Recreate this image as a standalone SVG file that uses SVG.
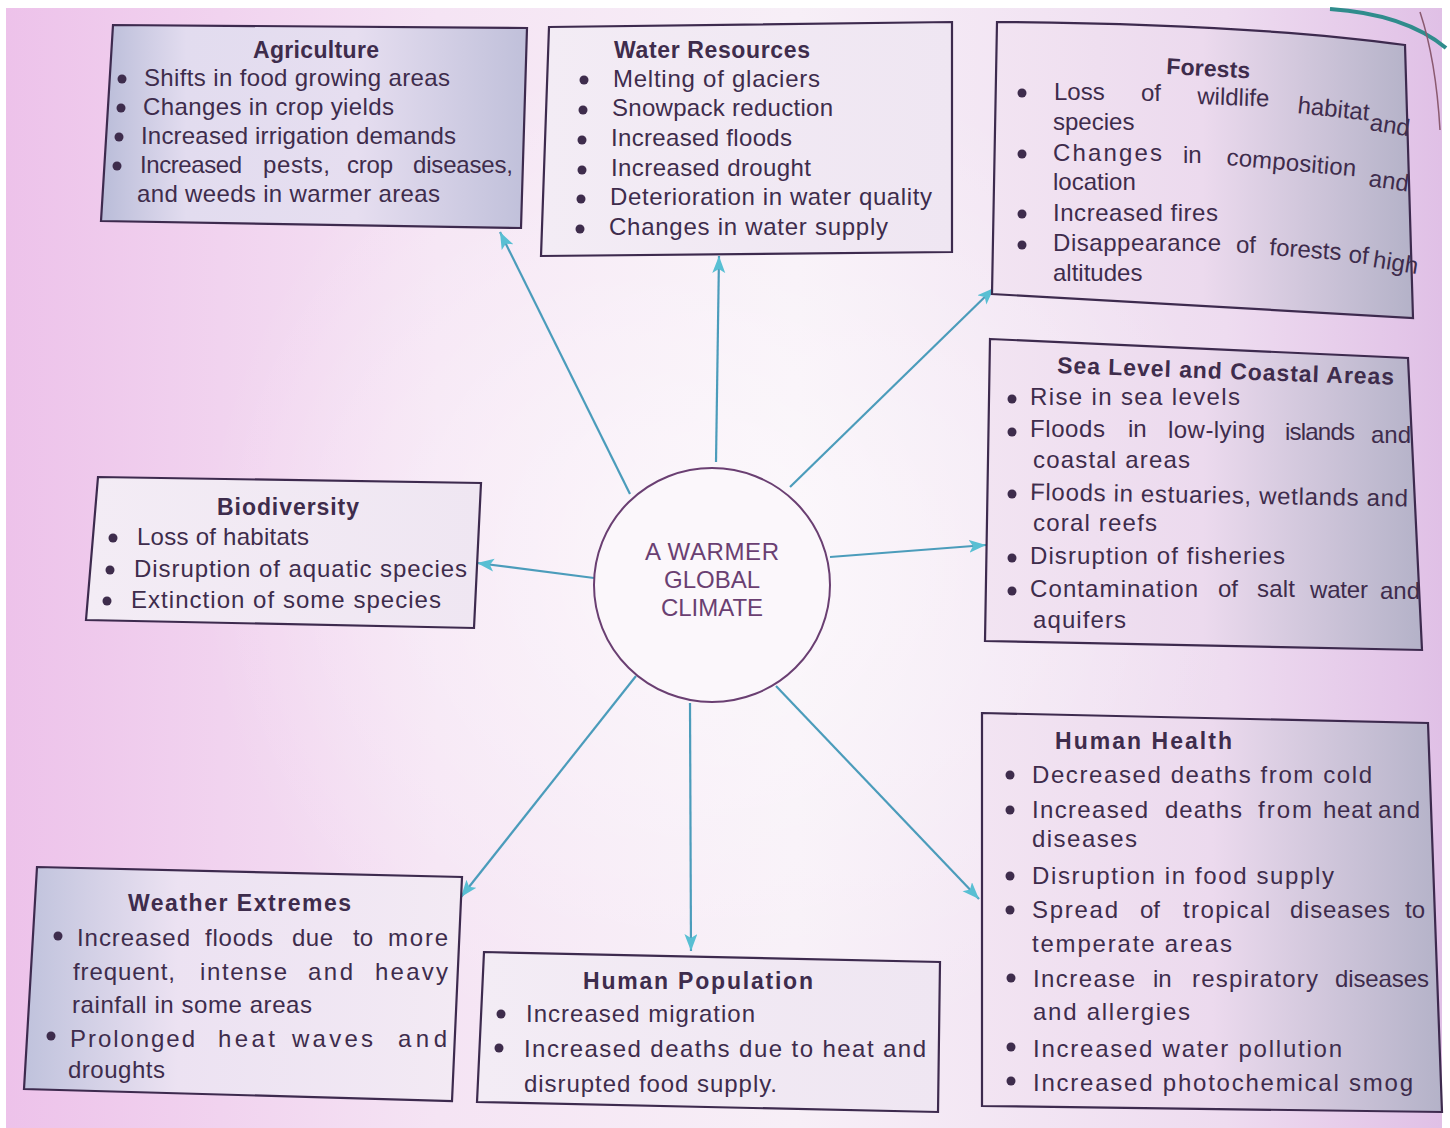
<svg xmlns="http://www.w3.org/2000/svg" width="1450" height="1128" viewBox="0 0 1450 1128">
<defs>
<linearGradient id="page" x1="0" y1="0" x2="1" y2="0">
<stop offset="0" stop-color="#edc2ea"/>
<stop offset="0.3" stop-color="#f5e4f4"/>
<stop offset="0.55" stop-color="#f7eff7"/>
<stop offset="0.85" stop-color="#eedcf0"/>
<stop offset="1" stop-color="#e0c0e6"/>
</linearGradient>
<radialGradient id="glow" cx="0.5" cy="0.5" r="0.5">
<stop offset="0" stop-color="#ffffff" stop-opacity="0.6"/>
<stop offset="1" stop-color="#ffffff" stop-opacity="0"/>
</radialGradient>
<linearGradient id="boxA" x1="0" y1="0" x2="1" y2="0">
<stop offset="0" stop-color="#b9bcd8"/>
<stop offset="0.2" stop-color="#e2dcef"/>
<stop offset="0.6" stop-color="#e6def0"/>
<stop offset="1" stop-color="#c0c0da"/>
</linearGradient>
<linearGradient id="boxR" x1="0" y1="0" x2="1" y2="0">
<stop offset="0" stop-color="#f2e4f2"/>
<stop offset="0.5" stop-color="#ecdaee"/>
<stop offset="1" stop-color="#b4b2c8"/>
</linearGradient>
<linearGradient id="boxL" x1="0" y1="0" x2="1" y2="0">
<stop offset="0" stop-color="#bfc2dc"/>
<stop offset="0.35" stop-color="#ece2f2"/>
<stop offset="1" stop-color="#f3eaf4"/>
</linearGradient>
<linearGradient id="boxW" x1="0" y1="0" x2="1" y2="0">
<stop offset="0" stop-color="#f3ecf5"/>
<stop offset="1" stop-color="#efe6f2"/>
</linearGradient>
<marker id="ah" markerUnits="userSpaceOnUse" markerWidth="20" markerHeight="14" refX="17" refY="6.5" orient="auto">
<path d="M0,0 L17,6.5 L0,13 L4,6.5 Z" fill="#58bfd3"/>
</marker>
<style>
.box{stroke:#3d2a4e;stroke-width:2.2}
.t{font-family:"Liberation Sans",Arial,sans-serif;font-size:24px;fill:#3e2c4c}
.h{font-family:"Liberation Sans",Arial,sans-serif;font-size:23px;font-weight:bold;fill:#3e2c4c}
.c{font-family:"Liberation Sans",Arial,sans-serif;font-size:24px;fill:#6a3f72;text-anchor:middle}
.b{fill:#3e2c4c}
.arr{stroke:#4b9cbb;stroke-width:2.2;fill:none;marker-end:url(#ah)}
</style>
</defs>
<rect width="1450" height="1128" fill="#ffffff"/>
<rect x="6" y="8" width="1436" height="1120" fill="url(#page)"/>
<ellipse cx="720" cy="560" rx="520" ry="520" fill="url(#glow)"/>
<path d="M1330,9 Q1405,14 1446,48" stroke="#2f8c8c" stroke-width="4" fill="none"/>
<path d="M1420,12 Q1436,60 1440,130" stroke="#8a5a70" stroke-width="1.5" fill="none"/>

<g id="connectors">
<line class="arr" x1="630" y1="494" x2="500" y2="232"/>
<line class="arr" x1="716" y1="462" x2="719" y2="256"/>
<line class="arr" x1="790" y1="487" x2="994" y2="288"/>
<line class="arr" x1="830" y1="557" x2="986" y2="545"/>
<line class="arr" x1="594" y1="578" x2="477" y2="563"/>
<line class="arr" x1="636" y1="676" x2="461" y2="897"/>
<line class="arr" x1="690" y1="703" x2="691" y2="951"/>
<line class="arr" x1="776" y1="686" x2="979" y2="899"/>
</g>

<g id="center">
<ellipse cx="712" cy="585" rx="118" ry="117" fill="#fbf7fb" stroke="#6a3f72" stroke-width="2"/>
<text class="c" x="712" y="560" textLength="134" lengthAdjust="spacing">A WARMER</text>
<text class="c" x="712" y="588">GLOBAL</text>
<text class="c" x="712" y="616">CLIMATE</text>
</g>

<g id="agriculture">
<path class="box" fill="url(#boxA)" d="M113,25 L527,28 L521,228 L101,221 Z"/>
<text class="h" x="253" y="58" textLength="126" lengthAdjust="spacing">Agriculture</text>
<circle class="b" cx="122" cy="79" r="4.5"/><text class="t" x="144" y="86" textLength="306" lengthAdjust="spacing">Shifts in food growing areas</text>
<circle class="b" cx="121" cy="108" r="4.5"/><text class="t" x="143" y="115" textLength="251" lengthAdjust="spacing">Changes in crop yields</text>
<circle class="b" cx="119" cy="137" r="4.5"/><text class="t" x="141" y="144" textLength="315" lengthAdjust="spacing">Increased irrigation demands</text>
<circle class="b" cx="117" cy="166" r="4.5"/>
<text class="t" x="140" y="173" textLength="102" lengthAdjust="spacing">Increased</text>
<text class="t" x="263" y="173" textLength="67" lengthAdjust="spacing">pests,</text>
<text class="t" x="347" y="173" textLength="46" lengthAdjust="spacing">crop</text>
<text class="t" x="413" y="173" textLength="100" lengthAdjust="spacing">diseases,</text>
<text class="t" x="137" y="202" textLength="303" lengthAdjust="spacing">and weeds in warmer areas</text>
</g>

<g id="water-resources">
<path class="box" fill="url(#boxW)" d="M549,27 L952,22 L952,252 L541,256 Z"/>
<text class="h" x="614" y="58" textLength="196" lengthAdjust="spacing">Water Resources</text>
<circle class="b" cx="584" cy="80" r="4.5"/><text class="t" x="613" y="87" textLength="207" lengthAdjust="spacing">Melting of glaciers</text>
<circle class="b" cx="583" cy="110" r="4.5"/><text class="t" x="612" y="116" textLength="221" lengthAdjust="spacing">Snowpack reduction</text>
<circle class="b" cx="582" cy="140" r="4.5"/><text class="t" x="611" y="146" textLength="181" lengthAdjust="spacing">Increased floods</text>
<circle class="b" cx="582" cy="170" r="4.5"/><text class="t" x="611" y="176" textLength="200" lengthAdjust="spacing">Increased drought</text>
<circle class="b" cx="581" cy="199" r="4.5"/><text class="t" x="610" y="205" textLength="322" lengthAdjust="spacing">Deterioration in water quality</text>
<circle class="b" cx="580" cy="229" r="4.5"/><text class="t" x="609" y="235" textLength="279" lengthAdjust="spacing">Changes in water supply</text>
</g>

<g id="forests">
<path class="box" fill="url(#boxR)" d="M997,22 Q1250,24 1405,45 L1413,318 L992,294 Z"/>
<text class="h" x="1166" y="74" textLength="84" lengthAdjust="spacing" transform="rotate(3 1166 74)">Forests</text>
<circle class="b" cx="1022" cy="93" r="4.5"/>
<text class="t" x="1054" y="100">Loss</text>
<text class="t" x="1141" y="101">of</text>
<text class="t" x="1197" y="104" font-size="23" transform="rotate(2 1197 104)">wildlife</text>
<text class="t" x="1297" y="113" font-size="21" transform="rotate(6 1297 113)">habitat</text>
<text class="t" x="1369" y="130" font-size="18" transform="rotate(9 1369 130)">and</text>
<text class="t" x="1053" y="130">species</text>
<circle class="b" cx="1022" cy="154" r="4.5"/>
<text class="t" x="1053" y="161" textLength="109" lengthAdjust="spacing">Changes</text>
<text class="t" x="1183" y="163">in</text>
<text class="t" x="1226" y="165" textLength="130" lengthAdjust="spacing" transform="rotate(5 1226 165)">composition</text>
<text class="t" x="1368" y="186" font-size="19" transform="rotate(8 1368 186)">and</text>
<text class="t" x="1053" y="190">location</text>
<circle class="b" cx="1022" cy="214" r="4.5"/>
<text class="t" x="1053" y="221" textLength="165" lengthAdjust="spacing">Increased fires</text>
<circle class="b" cx="1022" cy="245" r="4.5"/>
<text class="t" x="1053" y="251" textLength="168" lengthAdjust="spacing">Disappearance</text>
<text class="t" x="1236" y="253">of</text>
<text class="t" x="1269" y="255" font-size="22" transform="rotate(4 1269 255)">forests</text>
<text class="t" x="1348" y="262" font-size="20" transform="rotate(6 1348 262)">of</text>
<text class="t" x="1372" y="267" font-size="18" transform="rotate(9 1372 267)">high</text>
<text class="t" x="1053" y="281">altitudes</text>
</g>

<g id="sea-level">
<path class="box" fill="url(#boxR)" d="M990,339 L1408,358 L1422,650 L985,641 Z"/>
<text class="h" x="1057" y="373" textLength="337" lengthAdjust="spacing" transform="rotate(2 1057 373)">Sea Level and Coastal Areas</text>
<circle class="b" cx="1012" cy="399" r="4.5"/><text class="t" x="1030" y="405" textLength="210" lengthAdjust="spacing">Rise in sea levels</text>
<circle class="b" cx="1012" cy="432" r="4.5"/>
<text class="t" x="1030" y="437" textLength="75" lengthAdjust="spacing">Floods</text>
<text class="t" x="1128" y="437">in</text>
<text class="t" x="1168" y="438" textLength="97" lengthAdjust="spacing">low-lying</text>
<text class="t" x="1285" y="440" font-size="23" textLength="70" lengthAdjust="spacing">islands</text>
<text class="t" x="1371" y="443" font-size="21">and</text>
<text class="t" x="1033" y="468" textLength="157" lengthAdjust="spacing">coastal areas</text>
<circle class="b" cx="1012" cy="494" r="4.5"/><text class="t" x="1030" y="500" textLength="378" lengthAdjust="spacing" transform="rotate(1 1030 500)">Floods in estuaries, wetlands and</text>
<text class="t" x="1033" y="531" textLength="124" lengthAdjust="spacing">coral reefs</text>
<circle class="b" cx="1012" cy="558" r="4.5"/><text class="t" x="1030" y="564" textLength="255" lengthAdjust="spacing">Disruption of fisheries</text>
<circle class="b" cx="1012" cy="591" r="4.5"/>
<text class="t" x="1030" y="597" textLength="168" lengthAdjust="spacing">Contamination</text>
<text class="t" x="1218" y="597">of</text>
<text class="t" x="1257" y="597" textLength="38" lengthAdjust="spacing">salt</text>
<text class="t" x="1310" y="598" textLength="58" lengthAdjust="spacing">water</text>
<text class="t" x="1380" y="599" font-size="21">and</text>
<text class="t" x="1033" y="628" textLength="93" lengthAdjust="spacing">aquifers</text>
</g>

<g id="biodiversity">
<path class="box" fill="url(#boxW)" d="M98,477 L481,483 L474,628 L86,620 Z"/>
<text class="h" x="217" y="515" textLength="142" lengthAdjust="spacing">Biodiversity</text>
<circle class="b" cx="113" cy="538" r="4.5"/><text class="t" x="137" y="545" textLength="172" lengthAdjust="spacing">Loss of habitats</text>
<circle class="b" cx="110" cy="570" r="4.5"/><text class="t" x="134" y="577" textLength="333" lengthAdjust="spacing">Disruption of aquatic species</text>
<circle class="b" cx="107" cy="601" r="4.5"/><text class="t" x="131" y="608" textLength="310" lengthAdjust="spacing">Extinction of some species</text>
</g>

<g id="human-health">
<path class="box" fill="url(#boxR)" d="M982,713 L1428,723 L1442,1112 L982,1106 Z"/>
<text class="h" x="1055" y="749" textLength="177" lengthAdjust="spacing">Human Health</text>
<circle class="b" cx="1010" cy="775" r="4.5"/><text class="t" x="1032" y="783" textLength="340" lengthAdjust="spacing">Decreased deaths from cold</text>
<circle class="b" cx="1010" cy="810" r="4.5"/>
<text class="t" x="1032" y="818" textLength="116" lengthAdjust="spacing">Increased</text>
<text class="t" x="1165" y="818" textLength="77" lengthAdjust="spacing">deaths</text>
<text class="t" x="1258" y="818" textLength="54" lengthAdjust="spacing">from</text>
<text class="t" x="1323" y="818" textLength="49" lengthAdjust="spacing">heat</text>
<text class="t" x="1378" y="818" textLength="42" lengthAdjust="spacing">and</text>
<text class="t" x="1032" y="847" textLength="105" lengthAdjust="spacing">diseases</text>
<circle class="b" cx="1010" cy="876" r="4.5"/><text class="t" x="1032" y="884" textLength="302" lengthAdjust="spacing">Disruption in food supply</text>
<circle class="b" cx="1010" cy="910" r="4.5"/>
<text class="t" x="1032" y="918" textLength="86" lengthAdjust="spacing">Spread</text>
<text class="t" x="1140" y="918">of</text>
<text class="t" x="1183" y="918" textLength="87" lengthAdjust="spacing">tropical</text>
<text class="t" x="1290" y="918" textLength="100" lengthAdjust="spacing">diseases</text>
<text class="t" x="1405" y="918">to</text>
<text class="t" x="1032" y="952" textLength="200" lengthAdjust="spacing">temperate areas</text>
<circle class="b" cx="1011" cy="978" r="4.5"/>
<text class="t" x="1033" y="987" textLength="102" lengthAdjust="spacing">Increase</text>
<text class="t" x="1153" y="987">in</text>
<text class="t" x="1192" y="987" textLength="126" lengthAdjust="spacing">respiratory</text>
<text class="t" x="1335" y="987" textLength="94" lengthAdjust="spacing">diseases</text>
<text class="t" x="1033" y="1020" textLength="157" lengthAdjust="spacing">and allergies</text>
<circle class="b" cx="1011" cy="1047" r="4.5"/><text class="t" x="1033" y="1057" textLength="309" lengthAdjust="spacing">Increased water pollution</text>
<circle class="b" cx="1011" cy="1081" r="4.5"/><text class="t" x="1033" y="1091" textLength="380" lengthAdjust="spacing">Increased photochemical smog</text>
</g>

<g id="weather-extremes">
<path class="box" fill="url(#boxL)" d="M37,867 L462,877 L452,1101 L24,1089 Z"/>
<text class="h" x="128" y="911" textLength="223" lengthAdjust="spacing">Weather Extremes</text>
<circle class="b" cx="58" cy="936" r="4.5"/>
<text class="t" x="77" y="946" textLength="113" lengthAdjust="spacing">Increased</text>
<text class="t" x="205" y="946" textLength="68" lengthAdjust="spacing">floods</text>
<text class="t" x="292" y="946" textLength="41" lengthAdjust="spacing">due</text>
<text class="t" x="353" y="946">to</text>
<text class="t" x="388" y="946" textLength="60" lengthAdjust="spacing">more</text>
<text class="t" x="73" y="980" textLength="102" lengthAdjust="spacing">frequent,</text>
<text class="t" x="200" y="980" textLength="87" lengthAdjust="spacing">intense</text>
<text class="t" x="308" y="980" textLength="45" lengthAdjust="spacing">and</text>
<text class="t" x="375" y="980" textLength="73" lengthAdjust="spacing">heavy</text>
<text class="t" x="72" y="1013" textLength="240" lengthAdjust="spacing">rainfall in some areas</text>
<circle class="b" cx="51" cy="1036" r="4.5"/>
<text class="t" x="70" y="1047" textLength="125" lengthAdjust="spacing">Prolonged</text>
<text class="t" x="218" y="1047" textLength="57" lengthAdjust="spacing">heat</text>
<text class="t" x="292" y="1047" textLength="81" lengthAdjust="spacing">waves</text>
<text class="t" x="398" y="1047" textLength="49" lengthAdjust="spacing">and</text>
<text class="t" x="68" y="1078" textLength="97" lengthAdjust="spacing">droughts</text>
</g>

<g id="human-population">
<path class="box" fill="url(#boxW)" d="M484,952 L940,962 L938,1112 L477,1102 Z"/>
<text class="h" x="583" y="989" textLength="230" lengthAdjust="spacing">Human Population</text>
<circle class="b" cx="501" cy="1014" r="4.5"/><text class="t" x="526" y="1022" textLength="229" lengthAdjust="spacing">Increased migration</text>
<circle class="b" cx="499" cy="1048" r="4.5"/><text class="t" x="524" y="1057" textLength="402" lengthAdjust="spacing">Increased deaths due to heat and</text>
<text class="t" x="524" y="1092" textLength="253" lengthAdjust="spacing">disrupted food supply.</text>
</g>
</svg>
